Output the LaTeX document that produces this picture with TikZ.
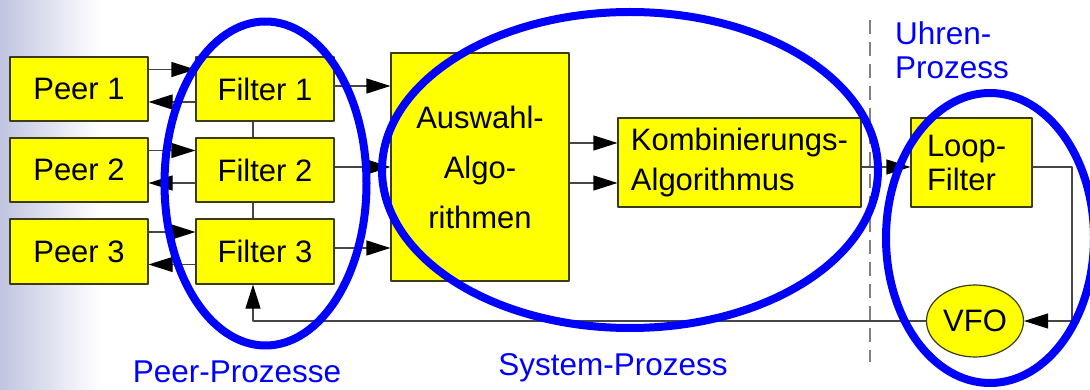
\documentclass[tikz,border=0pt]{standalone}
\usepackage{fontspec}
\setmainfont{Liberation Sans}
\usetikzlibrary{arrows.meta, shapes.geometric}
\definecolor{boxfill}{RGB}{255,255,0}
\definecolor{boxline}{RGB}{60,60,20}
\definecolor{linkgray}{RGB}{70,70,70}
\definecolor{procblue}{RGB}{0,0,255}
\definecolor{sidebar}{RGB}{192,196,224}

\begin{document}
\begin{tikzpicture}[x=1pt, y=-1pt, >={Triangle[length=24pt,width=15pt,color=black]},
	line join=round, font=\fontsize{31}{36}\selectfont,
	block/.style={draw=boxline, line width=1.2pt, fill=boxfill, inner sep=0pt},
	link/.style={draw=linkgray, line width=1.2pt},
	proc/.style={draw=procblue, line width=8pt},
	proclabel/.style={text=procblue, font=\fontsize{31.5}{34}\selectfont}]
	
	\useasboundingbox (0,0) rectangle (1090,390);
	% shaded strip on the left edge
	\shade[left color=sidebar, right color=white] (0,0) rectangle (100,390);
	
	%========================
	% Peers and their filters
	%========================
	\node[block, minimum width=138pt, minimum height=64pt] (peer1) at (79,89) {Peer 1};
	\node[block, minimum width=138pt, minimum height=64pt] (peer2) at (79,170) {Peer 2};
	\node[block, minimum width=138pt, minimum height=65pt] (peer3) at (79,251.5) {Peer 3};
	\node[block, minimum width=138pt, minimum height=64pt] (filter1) at (265,89) {Filter 1};
	\node[block, minimum width=138pt, minimum height=64pt] (filter2) at (265,170) {Filter 2};
	\node[block, minimum width=138pt, minimum height=65pt] (filter3) at (265,251.5) {Filter 3};
	
	% requests out, replies back
	\draw[link,->] ([yshift=19.5pt]peer1.east) -- ([yshift=19.5pt]filter1.west);
	\draw[link,->] ([yshift=-13pt]filter1.west) -- ([yshift=-13pt]peer1.east);
	\draw[link,->] ([yshift=19.5pt]peer2.east) -- ([yshift=19.5pt]filter2.west);
	\draw[link,->] ([yshift=-13pt]filter2.west) -- ([yshift=-13pt]peer2.east);
	\draw[link,->] ([yshift=19.5pt]peer3.east) -- ([yshift=19.5pt]filter3.west);
	\draw[link,->] ([yshift=-13pt]filter3.west) -- ([yshift=-13pt]peer3.east);
	
	% filters are tied together
	\draw[link] ([xshift=-12pt]filter1.south) -- ([xshift=-12pt]filter2.north);
	\draw[link] ([xshift=-12pt]filter2.south) -- ([xshift=-12pt]filter3.north);
	
	%========================
	% Selection and combining
	%========================
	\node[block, minimum width=178pt, minimum height=228pt, align=center,
	font=\fontsize{31}{50}\selectfont] (auswahl) at (480,167) {Auswahl-\\Algo-\\rithmen};
	\node[block, minimum width=243pt, minimum height=89pt, align=left,
	font=\fontsize{31}{40}\selectfont] (komb) at (739.5,162.5) {Kombinierungs-\\Algorithmus};
	
	\draw[link,->] ([yshift=3pt]filter1.east) -- ([yshift=3pt]filter1.east -| auswahl.west);
	\draw[link,->] ([yshift=3pt]filter2.east) -- ([yshift=3pt]filter2.east -| auswahl.west);
	\draw[link,->] ([yshift=3.5pt]filter3.east) -- ([yshift=3.5pt]filter3.east -| auswahl.west);
	
	\draw[link,->] ([yshift=19.5pt]komb.west -| auswahl.east) -- ([yshift=19.5pt]komb.west);
	\draw[link,->] ([yshift=-20.5pt]komb.west -| auswahl.east) -- ([yshift=-20.5pt]komb.west);
	
	%========================
	% Clock loop
	%========================
	\node[block, minimum width=121pt, minimum height=89pt, text width=89pt, align=left,
	font=\fontsize{31}{34}\selectfont] (loop) at (971.5,162.5) {Loop-\\Filter};
	\node[block, ellipse, minimum width=97pt, minimum height=72pt] (vfo) at (975,321) {VFO};
	
	\coordinate (turn) at (1072,321);
	\coordinate (back) at (253,321);
	
	\draw[link,->] ([yshift=-4.5pt]komb.east) -- ([yshift=-4.5pt]loop.west);
	\draw[link,->] ([yshift=-4.5pt]loop.east) -| (turn) -- (vfo.east);
	\draw[link,->] (vfo.west) -- (back) -- ([xshift=-12pt]filter3.south);
	
	% border between system and clock
	\draw[gray, line width=1.5pt, dash pattern=on 14pt off 8pt] (870,20) -- (870,362);
	
	%========================
	% Processes
	%========================
	\draw[proc] (265.5,183.5) ellipse [x radius=101pt, y radius=162pt];
	\draw[proc] (630,170) ellipse [x radius=248pt, y radius=158pt];
	\draw[proc] (990,238) ellipse [x radius=104pt, y radius=145pt];
	
	\node[proclabel] (peerlbl) at (237,372) {Peer-Prozesse};
	\node[proclabel] (syslbl) at (613,368) {System-Prozess};
	\node[proclabel, anchor=west, align=left, inner sep=0pt] (uhrlbl) at (895,50) {Uhren-\\Prozess};
	
\end{tikzpicture}
\end{document}
